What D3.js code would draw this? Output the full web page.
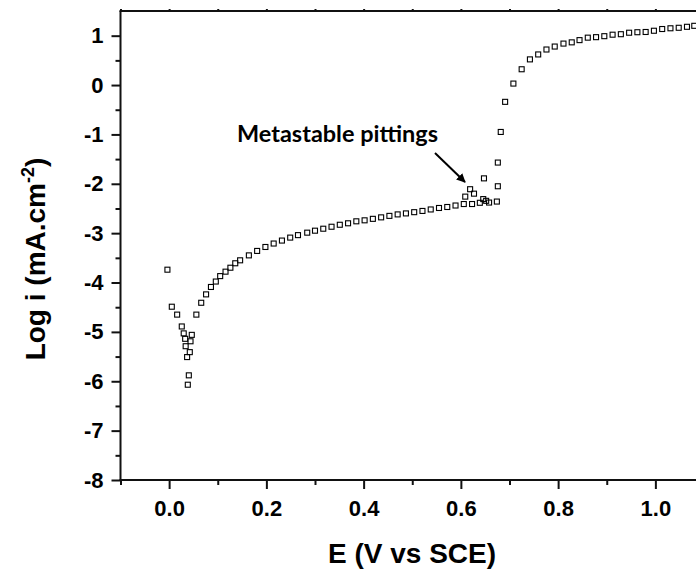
<!DOCTYPE html>
<html>
<head>
<meta charset="utf-8">
<script src="https://cdn.jsdelivr.net/npm/d3@7"></script>
<style>
  html, body { margin: 0; padding: 0; background: #fff; }
  svg { display: block; overflow: hidden; }
</style>
</head>
<body>
<svg id="chart" width="696" height="572"></svg>
<script>
// ---- data ----
const potentialE = [
  -0.0035, 0.0055, 0.0165, 0.026, 0.030, 0.033, 0.034, 0.037, 0.0405, 0.0384,
  0.0425, 0.044, 0.0466, 0.056, 0.066, 0.076, 0.086, 0.096, 0.105, 0.116,
  0.126, 0.136, 0.146, 0.164, 0.181, 0.198, 0.215, 0.232, 0.249, 0.265,
  0.284, 0.300, 0.317, 0.334, 0.351, 0.368, 0.385, 0.402, 0.419, 0.436,
  0.453, 0.470, 0.487, 0.504, 0.521, 0.538, 0.555, 0.572, 0.589, 0.606,
  0.609, 0.619, 0.627, 0.623, 0.639, 0.646, 0.652, 0.658, 0.6475, 0.674,
  0.676, 0.676, 0.682, 0.691, 0.708, 0.725, 0.742, 0.759, 0.776, 0.793,
  0.811, 0.828, 0.844, 0.861, 0.878, 0.895, 0.912, 0.929, 0.946, 0.963,
  0.980, 0.997, 1.014, 1.031, 1.048, 1.065, 1.080
];
const logCurrent = [
  -3.74, -4.49, -4.65, -4.89, -5.03, -5.14, -5.29, -5.51, -5.88, -6.07,
  -5.41, -5.19, -5.06, -4.65, -4.41, -4.24, -4.09, -3.98, -3.87, -3.78,
  -3.70, -3.61, -3.55, -3.45, -3.36, -3.28, -3.21, -3.15, -3.09, -3.04,
  -2.99, -2.95, -2.91, -2.87, -2.83, -2.80, -2.76, -2.74, -2.71, -2.68,
  -2.65, -2.62, -2.60, -2.575, -2.55, -2.52, -2.49, -2.47, -2.44, -2.41,
  -2.26, -2.11, -2.20, -2.41, -2.385, -2.31, -2.345, -2.38, -1.89, -2.36,
  -2.05, -1.57, -0.95, -0.34, 0.03, 0.32, 0.52, 0.62, 0.72, 0.78,
  0.84, 0.865, 0.91, 0.96, 0.97, 0.99, 1.02, 1.03, 1.06, 1.07,
  1.075, 1.10, 1.135, 1.15, 1.16, 1.18, 1.20
];
const xMajorTicks = [0.0, 0.2, 0.4, 0.6, 0.8, 1.0];
const xMinorTicks = [-0.1, 0.1, 0.3, 0.5, 0.7, 0.9, 1.1];
const yMajorTicks = [1, 0, -1, -2, -3, -4, -5, -6, -7, -8];
const yMinorTicks = [0.5, -0.5, -1.5, -2.5, -3.5, -4.5, -5.5, -6.5, -7.5];
const xTitle = "E (V vs SCE)";
const annotationText = "Metastable pittings";

// ---- layout ----
const svg = d3.select("#chart");
const pLeft = 120.5, pRight = 704, pTop = 11, pBottom = 480;
const x = d3.scaleLinear().domain([-0.1, 1.1]).range([pLeft, pRight]);
const y = d3.scaleLinear().domain([-8, 1.5]).range([pBottom, pTop]);
const FONT = "'Liberation Sans', Arial, Helvetica, sans-serif";

// bottom axis
const gx = svg.append("g").attr("transform", `translate(0,${pBottom})`);
gx.call(d3.axisBottom(x).tickValues(xMinorTicks).tickSize(5).tickSizeOuter(0).tickFormat(""));
gx.call(g => g.selectAll(".domain").remove());
const gx2 = svg.append("g").attr("transform", `translate(0,${pBottom})`);
gx2.call(d3.axisBottom(x).tickValues(xMajorTicks).tickSize(9).tickSizeOuter(0)
  .tickPadding(11).tickFormat(d3.format(".1f")));
gx2.call(g => g.selectAll(".domain").remove());

// left axis
const gy = svg.append("g").attr("transform", `translate(${pLeft},0)`);
gy.call(d3.axisLeft(y).tickValues(yMinorTicks).tickSize(5).tickSizeOuter(0).tickFormat(""));
gy.call(g => g.selectAll(".domain").remove());
const gy2 = svg.append("g").attr("transform", `translate(${pLeft},0)`);
gy2.call(d3.axisLeft(y).tickValues(yMajorTicks).tickSize(9).tickSizeOuter(0)
  .tickPadding(8).tickFormat(d => String(d)));
gy2.call(g => g.selectAll(".domain").remove());

// top axis tiny ticks
const gt = svg.append("g").attr("transform", `translate(0,${pTop})`);
gt.call(d3.axisTop(x).tickValues(xMajorTicks.concat(xMinorTicks)).tickSize(2).tickSizeOuter(0).tickFormat(""));
gt.call(g => g.selectAll(".domain").remove());

svg.selectAll("g").attr("font-size", null).attr("font-family", null);
svg.selectAll(".tick line").attr("stroke", "#111").attr("stroke-width", 2);
svg.selectAll(".tick text")
  .style("font-family", FONT).style("font-size", "22px").style("font-weight", "bold").attr("fill", "#000");

// frame lines
svg.append("line").attr("x1", pLeft).attr("x2", pLeft).attr("y1", pTop).attr("y2", pBottom + 1)
  .attr("stroke", "#111").attr("stroke-width", 2);
svg.append("line").attr("x1", pLeft - 1).attr("x2", 700).attr("y1", pBottom).attr("y2", pBottom)
  .attr("stroke", "#111").attr("stroke-width", 2);
svg.append("line").attr("x1", pLeft - 1).attr("x2", 700).attr("y1", pTop).attr("y2", pTop)
  .attr("stroke", "#111").attr("stroke-width", 2);

// data markers
const pts = potentialE.map((e, i) => ({ e, l: logCurrent[i] }));
const s = 5;
svg.append("g").selectAll("rect").data(pts).join("rect")
  .attr("x", d => x(d.e) - s / 2)
  .attr("y", d => y(d.l) - s / 2)
  .attr("width", s).attr("height", s)
  .attr("fill", "none").attr("stroke", "#000").attr("stroke-width", 1.1);

// axis titles
svg.append("text")
  .attr("x", 412).attr("y", 563)
  .attr("text-anchor", "middle")
  .style("font-family", FONT).style("font-size", "28px").style("font-weight", "bold")
  .text(xTitle);

const yt = svg.append("text")
  .attr("transform", "translate(45,259) rotate(-90)")
  .attr("text-anchor", "middle")
  .style("font-family", FONT).style("font-size", "28px").style("font-weight", "bold");
yt.append("tspan").text("Log i (mA.cm");
yt.append("tspan").style("font-size", "18px").attr("dy", -11).text("-2");
yt.append("tspan").attr("dy", 11).text(")");

// annotation
svg.append("text")
  .attr("x", 237).attr("y", 142)
  .style("font-family", "Lato, 'Open Sans', sans-serif").style("font-size", "22px").style("font-weight", "bold")
  .attr("textLength", 201).attr("lengthAdjust", "spacingAndGlyphs")
  .text(annotationText);

svg.append("defs").append("marker")
  .attr("id", "arrow").attr("viewBox", "0 0 10 10").attr("refX", 9).attr("refY", 5)
  .attr("markerWidth", 4.5).attr("markerHeight", 4.5).attr("orient", "auto")
  .append("path").attr("d", "M0,0 L10,5 L0,10 Z").attr("fill", "#000");
svg.append("line")
  .attr("x1", 435).attr("y1", 153).attr("x2", 465).attr("y2", 182)
  .attr("stroke", "#000").attr("stroke-width", 2).attr("marker-end", "url(#arrow)");
</script>
</body>
</html>
